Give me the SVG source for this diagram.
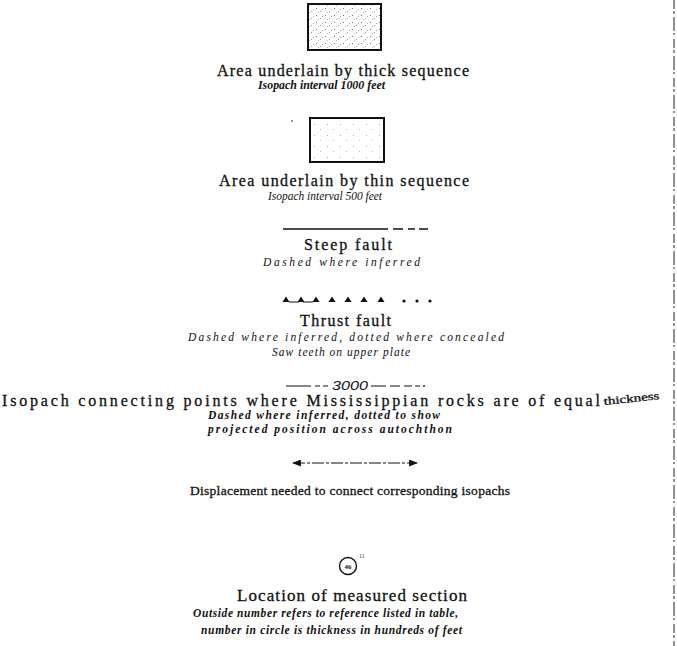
<svg xmlns="http://www.w3.org/2000/svg" width="677" height="646" viewBox="0 0 677 646">
<style>
.cap{font-family:"Liberation Serif","Times New Roman",serif;font-size:16px;fill:#111;stroke:#111;stroke-width:0.3}
.sub{font-family:"Liberation Serif","Times New Roman",serif;font-size:11.5px;font-style:italic;font-weight:bold;fill:#111}
.lt{font-weight:normal}
.ln{stroke:#111;fill:none}
</style>
<defs>
<pattern id="dense" width="9" height="7" patternUnits="userSpaceOnUse">
<rect x="1" y="1" width="1" height="1" fill="#777"/><rect x="5" y="4" width="1" height="1" fill="#999"/><rect x="7" y="2" width="1" height="1" fill="#aaa"/><rect x="3" y="5" width="1" height="1" fill="#bbb"/>
</pattern>
<pattern id="sparse" width="13" height="11" patternUnits="userSpaceOnUse">
<rect x="2" y="3" width="1" height="1" fill="#aaa"/><rect x="8" y="8" width="1" height="1" fill="#bbb"/>
</pattern>
<marker id="ah" viewBox="0 0 10 8" refX="9" refY="4" markerWidth="9" markerHeight="7" markerUnits="userSpaceOnUse" orient="auto-start-reverse">
<path d="M0,0 L10,4 L0,8 Z" fill="#111"/>
</marker>
<path id="tri" d="M-3.5,0 L0,-5.5 L3.5,0 Z" fill="#111"/>
</defs>

<g id="thick-sequence">
<rect x="308" y="4" width="73" height="46" fill="url(#dense)" stroke="#111" stroke-width="2"/>
<text class="cap" x="217" y="76" textLength="252" lengthAdjust="spacing">Area underlain by thick sequence</text>
<text class="sub" x="258" y="89" textLength="127" lengthAdjust="spacingAndGlyphs">Isopach interval 1000 feet</text>
</g>

<g id="thin-sequence">
<circle cx="292" cy="121" r="0.8" fill="#111"/>
<rect x="310" y="118" width="74" height="44" fill="url(#sparse)" stroke="#111" stroke-width="2"/>
<text class="cap" x="219" y="186" textLength="250" lengthAdjust="spacing">Area underlain by thin sequence</text>
<text class="sub lt" x="268" y="200" textLength="114" lengthAdjust="spacingAndGlyphs">Isopach interval 500 feet</text>
</g>

<g id="steep-fault">
<path class="ln" stroke-width="1.6" d="M283,229 H388 M393,229 H403 M408,229 H415 M419,229 H428"/>
<text class="cap" x="304" y="250" textLength="88" lengthAdjust="spacing">Steep fault</text>
<text class="sub lt" x="263" y="266" textLength="157" lengthAdjust="spacing">Dashed where inferred</text>
</g>

<g id="thrust-fault">
<path class="ln" stroke-width="1" d="M289,302 H299 M303,302 H313"/>
<use href="#tri" x="286" y="302"/>
<use href="#tri" x="301" y="302"/>
<use href="#tri" x="316" y="302"/>
<use href="#tri" x="332" y="302"/>
<use href="#tri" x="348" y="302"/>
<use href="#tri" x="364" y="302"/>
<use href="#tri" x="381" y="302"/>
<circle cx="404" cy="301" r="1.6" fill="#111"/>
<circle cx="417" cy="301" r="1.6" fill="#111"/>
<circle cx="430" cy="301" r="1.6" fill="#111"/>
<text class="cap" x="300" y="326" textLength="91" lengthAdjust="spacing">Thrust fault</text>
<text class="sub lt" x="188" y="341" textLength="316" lengthAdjust="spacing">Dashed where inferred, dotted where concealed</text>
<text class="sub lt" x="272" y="356" textLength="138" lengthAdjust="spacing">Saw teeth on upper plate</text>
</g>

<g id="isopach">
<path class="ln" stroke-width="1" d="M286,386 H311 M315,386 H320 M323,386 H328 M371,386 H386 M390,386 H400 M404,386 H412 M415,386 H420"/>
<circle cx="424" cy="386" r="0.9" fill="#111"/>
<text x="332" y="390" textLength="36" lengthAdjust="spacingAndGlyphs" font-family="Liberation Sans,Arial,sans-serif" font-style="italic" font-size="12" fill="#111">3000</text>
<text class="cap" x="2" y="406" textLength="598" lengthAdjust="spacing">Isopach connecting points where Mississippian rocks are of equal</text>
<text class="cap" style="font-size:11px" x="604" y="405" textLength="56" lengthAdjust="spacingAndGlyphs" transform="rotate(-6 604 405)">thickness</text>
<text class="sub" x="208" y="419" textLength="232" lengthAdjust="spacing">Dashed where inferred, dotted to show</text>
<text class="sub" x="208" y="433" textLength="244" lengthAdjust="spacing">projected position across autochthon</text>
</g>

<g id="displacement">
<text class="cap" style="font-size:13.5px" x="190" y="495" textLength="320" lengthAdjust="spacing">Displacement needed to connect corresponding isopachs</text>
</g>

<g id="measured-section">
<circle cx="348" cy="566" r="8.5" fill="none" stroke="#111" stroke-width="1.4"/>
<text x="348" y="568.5" text-anchor="middle" font-family="Liberation Serif,serif" font-size="7" font-weight="bold" fill="#111">46</text>
<text x="359" y="558" font-family="Liberation Serif,serif" font-size="6" fill="#444">11</text>
<text class="cap" style="font-size:17px" x="237" y="601" textLength="230" lengthAdjust="spacing">Location of measured section</text>
<text class="sub" x="193" y="617" textLength="265" lengthAdjust="spacing">Outside number refers to reference  listed in table,</text>
<text class="sub" x="201" y="634" textLength="261" lengthAdjust="spacing">number in circle is thickness in hundreds of feet</text>
</g>

<g id="connectors">
<path class="ln" stroke-width="1" stroke-dasharray="12 2 3 2" d="M293,463 H417" marker-start="url(#ah)" marker-end="url(#ah)"/>
</g>

<path d="M674,0 V646" stroke="#555" stroke-width="1.3" stroke-dasharray="9 2 3 3 14 2 2 4"/>
</svg>
